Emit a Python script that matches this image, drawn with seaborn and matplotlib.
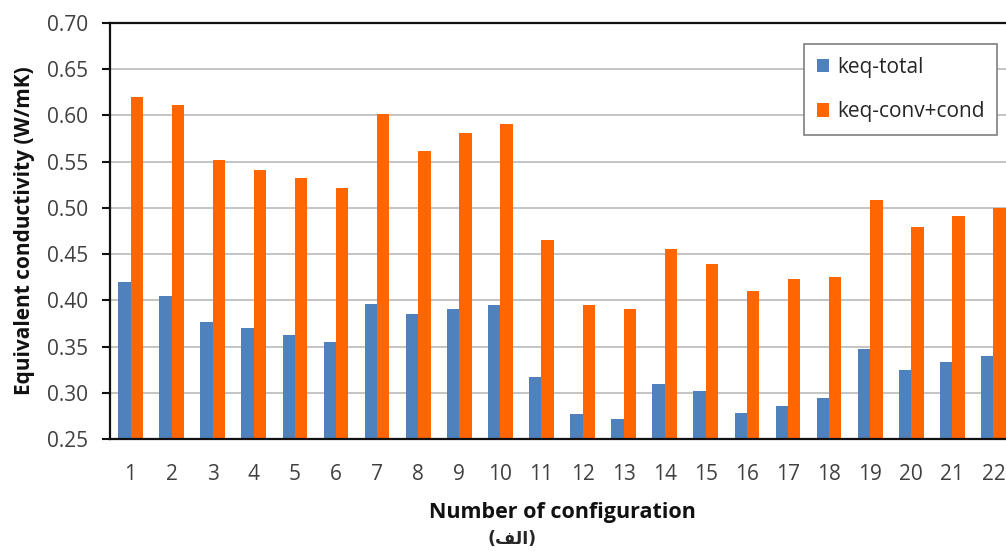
import matplotlib
matplotlib.use("Agg")
import matplotlib.pyplot as plt
from matplotlib.patches import Patch
import seaborn as sns
import pandas as pd

# values
configs = [str(i) for i in range(1, 23)]
keq_total = [0.420, 0.405, 0.377, 0.370, 0.363, 0.355, 0.396, 0.385, 0.391, 0.395, 0.317,
             0.277, 0.272, 0.310, 0.302, 0.278, 0.286, 0.294, 0.347, 0.325, 0.333, 0.340]
keq_conv_cond = [0.620, 0.611, 0.552, 0.541, 0.532, 0.521, 0.602, 0.562, 0.581, 0.591, 0.465,
                 0.395, 0.391, 0.456, 0.439, 0.410, 0.423, 0.425, 0.509, 0.479, 0.491, 0.500]
series_names = ["keq-total", "keq-conv+cond"]
colors = ["#4f81bd", "#ff6600"]

df = pd.DataFrame({
    "config": configs * 2,
    "value": keq_total + keq_conv_cond,
    "series": [series_names[0]] * len(configs) + [series_names[1]] * len(configs),
})

sns.set_style("white")
plt.rcParams["font.family"] = ["Open Sans", "DejaVu Sans"]

fig = plt.figure(figsize=(10.06, 5.51), dpi=100)
# the original picture is cropped on the right, so the axes run past the edge
ax = fig.add_axes([110 / 1006, 1 - 439 / 551, 904 / 1006, 416 / 551])

sns.barplot(data=df, x="config", y="value", hue="series", palette=colors,
            width=0.6, saturation=1, linewidth=0, ax=ax, legend=False)

ax.set_ylim(0.25, 0.70)
ax.set_yticks([0.25 + 0.05 * i for i in range(10)])
ax.set_yticklabels([f"{0.25 + 0.05 * i:.2f}" for i in range(10)])
ax.yaxis.grid(True, color="#bfbfbf", linewidth=1.3)
ax.set_axisbelow(True)

for side in ["left", "bottom", "top"]:
    ax.spines[side].set_color("#111111")
    ax.spines[side].set_linewidth(1.6)
    ax.spines[side].set_zorder(5)
ax.spines["right"].set_visible(False)

ax.tick_params(axis="y", direction="out", length=6, width=1.5, color="#111111",
               labelsize=15, labelcolor="#404040", pad=10, left=True)
ax.tick_params(axis="x", length=0, labelsize=15, labelcolor="#404040", pad=18)

ax.set_ylabel("Equivalent conductivity (W/mK)", fontsize=15, fontweight="bold",
              color="#111111", labelpad=8)
ax.set_xlabel("Number of configuration", fontsize=15.5, fontweight="bold",
              color="#111111", labelpad=12)

handles = [Patch(facecolor=c, edgecolor="none") for c in colors]
leg = fig.legend(handles, series_names, loc="upper left",
                 bbox_to_anchor=(804 / 1006, 1 - 44 / 551), bbox_transform=fig.transFigure,
                 borderaxespad=0, fontsize=15, frameon=True, fancybox=False,
                 framealpha=1, edgecolor="#7f7f7f", handlelength=0.6, handleheight=0.6,
                 handletextpad=0.4, labelspacing=1.15, borderpad=0.6)
leg.get_frame().set_linewidth(1.2)
for t in leg.get_texts():
    t.set_color("#262626")

# Persian caption "(الف)" written in shaped, visual-order form
fig.text(512 / 1006, 1 - 539 / 551, "(\ufed2\ufedf\ufe8d)", ha="center", va="center",
         fontsize=12.5, fontweight="bold", family=["DejaVu Sans"])

fig.savefig("out.png", dpi=100)
